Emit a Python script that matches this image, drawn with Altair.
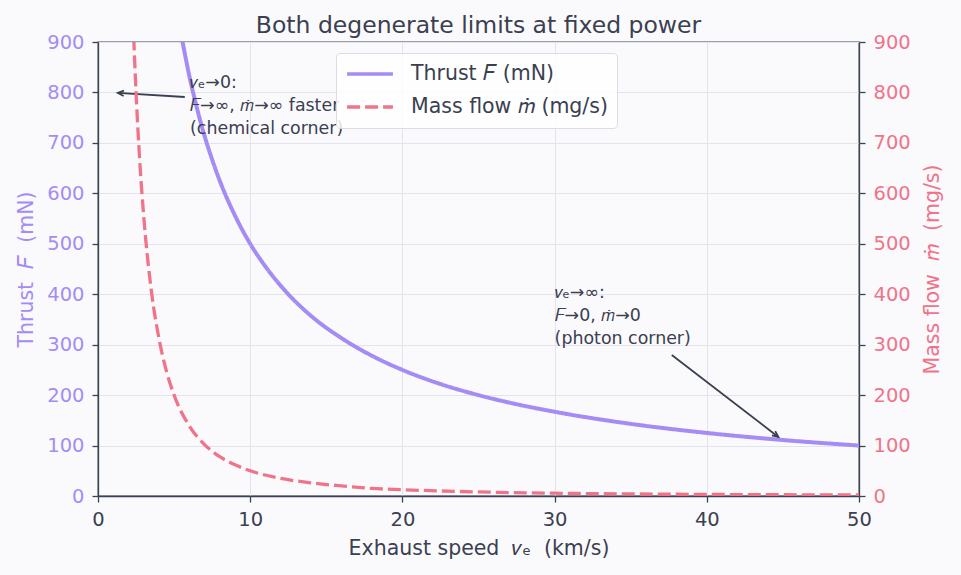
import altair as alt
import pandas as pd

# Thrust at fixed jet power versus exhaust speed
ve_thrust = [5.5, 6, 6.5, 7, 7.5, 8, 9, 10, 11, 12, 14, 16, 18, 20, 22.5, 25, 27.5, 30, 35, 40, 45, 50]
thrust_mn = [909, 833, 769, 714, 667, 625, 556, 500, 455, 417, 357, 313, 278, 250, 222, 200, 182, 167, 143, 125, 111, 100]

# Propellant mass flow at the same power
ve_mdot = [2.3, 2.5, 2.75, 3, 3.5, 4, 4.5, 5, 6, 7, 8, 9, 10, 12, 14, 16, 18, 20, 25, 30, 35, 40, 45, 50]
mdot_mgs = [945, 800, 661, 556, 408, 313, 247, 200, 139, 102, 78, 62, 50, 35, 26, 20, 15, 12.5, 8, 5.6, 4.1, 3.1, 2.5, 2.0]

series_names = ["Thrust 𝐹 (mN)", "Mass flow 𝑚̇ (mg/s)"]
series_colors = ["#a48cf4", "#f07489"]

# Annotation texts (anchored at their first line) and arrows (tail -> head)
note_ve = [6.05, 30.0]
note_y = [819, 402]
note_text = ["𝑣ₑ→0:\n𝐹→∞, 𝑚̇→∞ faster\n(chemical corner)",
             "𝑣ₑ→∞:\n𝐹→0, 𝑚̇→0\n(photon corner)"]
arrow_ve_tail = [5.7, 37.7]
arrow_y_tail = [791, 279.5]
arrow_ve_head = [1.3, 44.7]
arrow_y_head = [799, 117]
arrow_angle = [183.4, 37.7]

FONT = "DejaVu Sans"
INK = "#3a4050"
AXIS_INK = "#3b4252"
SP = "\u00a0\u00a0"

thrust_df = pd.DataFrame({"ve": ve_thrust, "val": thrust_mn, "series": series_names[0]})
mdot_df = pd.DataFrame({"ve": ve_mdot, "val": mdot_mgs, "series": series_names[1]})
note_df = pd.DataFrame({"ve": note_ve, "val": note_y, "text": note_text})
arrow_df = pd.DataFrame({"ve": arrow_ve_tail, "val": arrow_y_tail,
                         "ve2": arrow_ve_head, "val2": arrow_y_head,
                         "angle": arrow_angle})

x_scale = alt.Scale(domain=[0, 50], nice=False)
y_scale = alt.Scale(domain=[0, 900], nice=False)
x_enc = alt.X("ve:Q", scale=x_scale,
              axis=alt.Axis(values=[0, 10, 20, 30, 40, 50],
                            title=f"Exhaust speed{SP}𝑣ₑ{SP}(km/s)"))

color_enc = alt.Color("series:N", title=None,
                      scale=alt.Scale(domain=series_names, range=series_colors),
                      sort=series_names)
dash_enc = alt.StrokeDash("series:N", title=None,
                          scale=alt.Scale(domain=series_names, range=[[1, 0], [13, 5]]),
                          sort=series_names)

left_axis = alt.Axis(values=list(range(0, 1000, 100)), title=f"Thrust{SP}𝐹{SP}(mN)",
                     labelColor=series_colors[0], titleColor=series_colors[0],
                     titlePadding=10)
right_axis = alt.Axis(values=list(range(0, 1000, 100)), title=f"Mass flow{SP}𝑚̇{SP}(mg/s)",
                      orient="right", grid=False, titleAngle=270, titleBaseline="top",
                      labelColor=series_colors[1], titleColor=series_colors[1],
                      titlePadding=12)

thrust_line = alt.Chart(thrust_df).mark_line(
    strokeWidth=4, interpolate="monotone", clip=True
).encode(x=x_enc, y=alt.Y("val:Q", scale=y_scale, axis=left_axis),
         color=color_enc, strokeDash=dash_enc)

notes = alt.Chart(note_df).mark_text(
    align="left", baseline="middle", lineBreak="\n", fontSize=17.4,
    lineHeight=23, font=FONT, color=INK
).encode(x="ve:Q", y="val:Q", text="text:N")

arrow_shafts = alt.Chart(arrow_df).mark_rule(color=INK, strokeWidth=1.8).encode(
    x="ve:Q", y="val:Q", x2="ve2:Q", y2="val2:Q")

arrow_heads = alt.Chart(arrow_df).mark_point(
    shape="M -1 -0.45 L 0 0 L -1 0.45", filled=False, color=INK,
    strokeWidth=1.8, size=144, opacity=1
).encode(x="ve2:Q", y="val2:Q", angle=alt.Angle("angle:Q", scale=None))

left_layer = alt.layer(thrust_line, arrow_shafts, arrow_heads, notes)

mdot_line = alt.Chart(mdot_df).mark_line(
    strokeWidth=3.3, interpolate="monotone", clip=True
).encode(x=x_enc, y=alt.Y("val:Q", scale=y_scale, axis=right_axis),
         color=color_enc, strokeDash=dash_enc)

chart = alt.layer(left_layer, mdot_line).resolve_scale(
    y="independent"
).properties(
    width=761, height=454,
    autosize=alt.AutoSizeParams(type="none"),
    padding={"left": 98, "top": 42, "right": 102, "bottom": 79},
    background="#fafafd",
    title=alt.TitleParams("Both degenerate limits at fixed power", fontSize=23.5,
                          font=FONT, color=INK, fontWeight="normal",
                          anchor="middle", offset=-5),
).configure_view(
    stroke=AXIS_INK, strokeWidth=1.3, fill="#fafafd"
).configure_axis(
    labelFont=FONT, titleFont=FONT, labelFontSize=19.5, titleFontSize=20.5,
    titleFontWeight="normal", domainColor=AXIS_INK, domainWidth=1.3,
    tickColor=AXIS_INK, tickSize=6, tickWidth=1.3, labelPadding=8,
    labelFlush=False,
    gridColor="#e2e3ec", gridWidth=1, labelColor=INK, titleColor=INK
).configure_axisX(
    grid=True, titlePadding=10
).configure_legend(
    orient="none", legendX=238, legendY=11,
    fillColor="rgba(255,255,255,0.82)", strokeColor="#dcdce6",
    cornerRadius=4, padding=9, labelFont=FONT, labelFontSize=20.5,
    labelColor=INK, labelLimit=400, symbolType="stroke", symbolStrokeWidth=3.5,
    symbolSize=2100, clipHeight=24, rowPadding=9, labelOffset=16
)

chart.save("out.html", embed_options={"renderer": "svg", "actions": False})
